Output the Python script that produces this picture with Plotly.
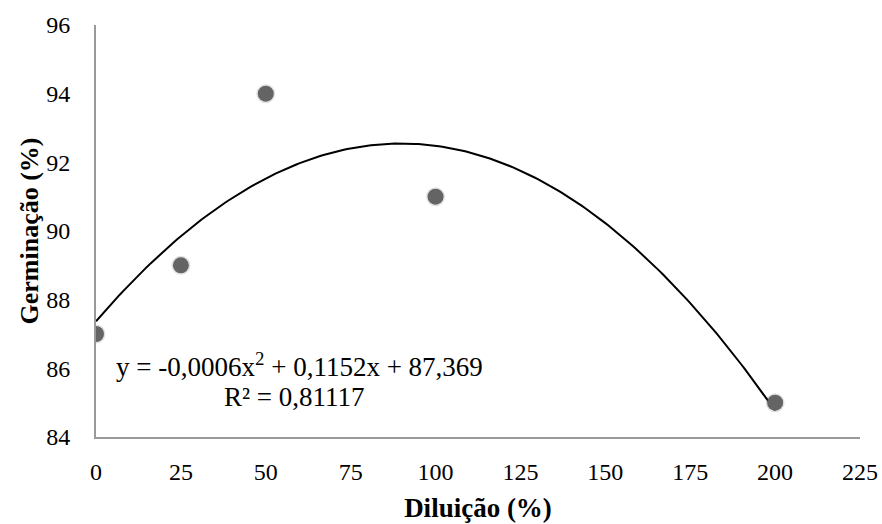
import numpy as np
import plotly.graph_objects as go

diluicao = [0, 25, 50, 100, 200]
germinacao = [87, 89, 94, 91, 85]
x_ticks = [0, 25, 50, 75, 100, 125, 150, 175, 200, 225]
y_ticks = [84, 86, 88, 90, 92, 94, 96]
eq_line1 = "y = -0,0006x<sup>2</sup> + 0,1152x + 87,369"
eq_line2 = "R² = 0,81117"

coef = np.polyfit(diluicao, germinacao, 2)
xs = np.linspace(min(diluicao), max(diluicao), 201)
ys = np.polyval(coef, xs)

FONT = "Liberation Serif"

fig = go.Figure()
fig.add_trace(go.Scatter(x=xs, y=ys, mode="lines",
                         line=dict(color="black", width=2), hoverinfo="skip"))
fig.add_trace(go.Scatter(x=diluicao, y=germinacao, mode="markers",
                         marker=dict(color="rgba(0,0,0,0.12)", size=19, line=dict(width=0)),
                         hoverinfo="skip"))
fig.add_trace(go.Scatter(x=diluicao, y=germinacao, mode="markers",
                         marker=dict(color="#646464", size=16, line=dict(width=0))))

fig.add_annotation(x=60.0, y=86.1, xref="x", yref="y", text=eq_line1,
                   showarrow=False, align="center",
                   font=dict(family=FONT, size=27, color="black"))
fig.add_annotation(x=58.6, y=85.17, xref="x", yref="y", text=eq_line2,
                   showarrow=False, align="center",
                   font=dict(family=FONT, size=27, color="black"))

fig.update_layout(
    width=882, height=524,
    margin=dict(l=96, r=22, t=25, b=87),
    paper_bgcolor="white", plot_bgcolor="white",
    showlegend=False,
    font=dict(family=FONT, size=24, color="black"),
    xaxis=dict(range=[0, 225], tickvals=x_ticks, showgrid=False, zeroline=False,
               showline=True, linecolor="#999999", linewidth=2, ticks="",
               ticklabelstandoff=12, automargin=False,
               tickfont=dict(family=FONT, size=24),
               title=dict(text="<b>Diluição (%)</b>", font=dict(size=27, family=FONT), standoff=14)),
    yaxis=dict(range=[84, 96], tickvals=y_ticks, showgrid=False, zeroline=False,
               showline=True, linecolor="#999999", linewidth=2, ticks="",
               ticklabelstandoff=19, automargin=False,
               tickfont=dict(family=FONT, size=24),
               title=dict(text="<b>Germinação (%)</b>", font=dict(size=26, family=FONT), standoff=0)),
)

fig.write_html("out.html", config={"displayModeBar": False},
               post_script="document.body.style.margin='0';document.body.style.overflow='hidden';")
